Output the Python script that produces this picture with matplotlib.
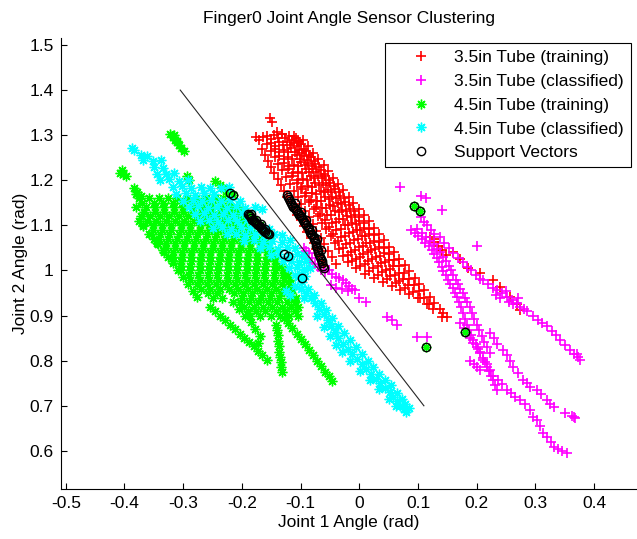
import matplotlib.pyplot as plt
import numpy as np

plt.rcParams['font.family'] = ['Liberation Sans', 'DejaVu Sans']
plt.rcParams['axes.unicode_minus'] = False

# 3.5in tube, training samples (red +)
train_35 = [
    # loose points on top of the band
    (-0.152, 1.338), (-0.148, 1.329), (-0.176, 1.296), (-0.171, 1.289), (-0.140, 1.307),
    (-0.131, 1.303), (-0.112, 1.299), (-0.104, 1.287),
    # left edge, next to the support vectors
    (-0.166, 1.270), (-0.161, 1.256), (-0.156, 1.243), (-0.150, 1.229), (-0.145, 1.216),
    (-0.139, 1.202), (-0.134, 1.189), (-0.128, 1.176), (-0.123, 1.163), (-0.117, 1.150),
    (-0.111, 1.137), (-0.106, 1.124), (-0.100, 1.111), (-0.094, 1.098), (-0.089, 1.085),
    (-0.083, 1.072), (-0.078, 1.060), (-0.073, 1.047), (-0.068, 1.034), (-0.064, 1.021),
    (-0.060, 1.010),
    (-0.164, 1.296), (-0.157, 1.281), (-0.151, 1.266), (-0.144, 1.251), (-0.138, 1.237),
    (-0.131, 1.222), (-0.125, 1.207), (-0.118, 1.192), (-0.112, 1.177), (-0.105, 1.162),
    (-0.099, 1.148), (-0.092, 1.133), (-0.086, 1.118), (-0.079, 1.103), (-0.073, 1.088),
    (-0.066, 1.073), (-0.060, 1.059), (-0.053, 1.044), (-0.047, 1.029), (-0.040, 1.014),
    # streaks through the middle of the band
    (-0.158, 1.298), (-0.151, 1.283), (-0.143, 1.269), (-0.136, 1.254), (-0.129, 1.239),
    (-0.122, 1.224), (-0.114, 1.210), (-0.107, 1.195), (-0.100, 1.180), (-0.093, 1.165),
    (-0.085, 1.151), (-0.078, 1.136), (-0.071, 1.121), (-0.064, 1.106), (-0.056, 1.092),
    (-0.049, 1.077), (-0.042, 1.062), (-0.035, 1.047), (-0.027, 1.033), (-0.020, 1.018),
    (-0.151, 1.292), (-0.143, 1.277), (-0.136, 1.262), (-0.128, 1.247), (-0.120, 1.232),
    (-0.113, 1.216), (-0.105, 1.201), (-0.097, 1.186), (-0.090, 1.171), (-0.082, 1.156),
    (-0.074, 1.141), (-0.067, 1.126), (-0.059, 1.111), (-0.051, 1.096), (-0.044, 1.080),
    (-0.036, 1.065), (-0.028, 1.050), (-0.020, 1.035), (-0.013, 1.020), (-0.005, 1.005),
    (-0.145, 1.300), (-0.137, 1.284), (-0.129, 1.268), (-0.121, 1.252), (-0.112, 1.235),
    (-0.104, 1.219), (-0.096, 1.203), (-0.088, 1.187), (-0.080, 1.171), (-0.072, 1.155),
    (-0.063, 1.138), (-0.055, 1.122), (-0.047, 1.106), (-0.039, 1.090), (-0.031, 1.074),
    (-0.023, 1.058), (-0.014, 1.041), (-0.006, 1.025), (0.002, 1.009), (0.010, 0.993),
    (-0.138, 1.293), (-0.130, 1.278), (-0.122, 1.262), (-0.114, 1.247), (-0.105, 1.231),
    (-0.097, 1.216), (-0.089, 1.200), (-0.081, 1.185), (-0.073, 1.169), (-0.065, 1.154),
    (-0.057, 1.139), (-0.048, 1.123), (-0.040, 1.108), (-0.032, 1.092), (-0.024, 1.077),
    (-0.016, 1.061), (-0.008, 1.046), (0.001, 1.030), (0.009, 1.015), (0.017, 0.999),
    (0.025, 0.984),
    (-0.132, 1.302), (-0.124, 1.286), (-0.116, 1.271), (-0.107, 1.255), (-0.099, 1.240),
    (-0.091, 1.224), (-0.083, 1.209), (-0.075, 1.193), (-0.066, 1.177), (-0.058, 1.162),
    (-0.050, 1.146), (-0.042, 1.131), (-0.034, 1.115), (-0.025, 1.100), (-0.017, 1.084),
    (-0.009, 1.068), (-0.001, 1.053), (0.007, 1.037), (0.015, 1.022), (0.024, 1.006),
    (0.032, 0.991), (0.040, 0.975),
    (-0.126, 1.293), (-0.118, 1.278), (-0.110, 1.263), (-0.101, 1.248), (-0.093, 1.234),
    (-0.085, 1.219), (-0.077, 1.204), (-0.068, 1.189), (-0.060, 1.174), (-0.052, 1.159),
    (-0.044, 1.144), (-0.035, 1.130), (-0.027, 1.115), (-0.019, 1.100), (-0.011, 1.085),
    (-0.002, 1.070), (0.006, 1.055), (0.014, 1.040), (0.022, 1.026), (0.031, 1.011),
    (0.039, 0.996), (0.047, 0.981), (0.055, 0.966),
    (-0.120, 1.298), (-0.112, 1.283), (-0.103, 1.268), (-0.095, 1.253), (-0.087, 1.239),
    (-0.079, 1.224), (-0.070, 1.209), (-0.062, 1.194), (-0.054, 1.179), (-0.046, 1.164),
    (-0.037, 1.150), (-0.029, 1.135), (-0.021, 1.120), (-0.013, 1.105), (-0.004, 1.090),
    (0.004, 1.076), (0.012, 1.061), (0.020, 1.046), (0.029, 1.031), (0.037, 1.016),
    (0.045, 1.001), (0.053, 0.987), (0.062, 0.972), (0.070, 0.957),
    (-0.114, 1.289), (-0.106, 1.275), (-0.097, 1.261), (-0.089, 1.246), (-0.081, 1.232),
    (-0.073, 1.218), (-0.064, 1.204), (-0.056, 1.189), (-0.048, 1.175), (-0.039, 1.161),
    (-0.031, 1.147), (-0.023, 1.133), (-0.015, 1.118), (-0.006, 1.104), (0.002, 1.090),
    (0.010, 1.076), (0.019, 1.061), (0.027, 1.047), (0.035, 1.033), (0.044, 1.019),
    (0.052, 1.004), (0.060, 0.990), (0.068, 0.976), (0.077, 0.962), (0.085, 0.947),
    (-0.108, 1.294), (-0.100, 1.280), (-0.091, 1.266), (-0.083, 1.251), (-0.075, 1.237),
    (-0.066, 1.223), (-0.058, 1.209), (-0.050, 1.194), (-0.041, 1.180), (-0.033, 1.166),
    (-0.025, 1.152), (-0.016, 1.137), (-0.008, 1.123), (0.000, 1.109), (0.008, 1.095),
    (0.017, 1.080), (0.025, 1.066), (0.033, 1.052), (0.042, 1.038), (0.050, 1.024),
    (0.058, 1.009), (0.067, 0.995), (0.075, 0.981), (0.083, 0.967), (0.092, 0.952),
    (0.100, 0.938),
    (-0.102, 1.284), (-0.094, 1.270), (-0.085, 1.256), (-0.077, 1.243), (-0.068, 1.229),
    (-0.060, 1.215), (-0.051, 1.201), (-0.043, 1.188), (-0.034, 1.174), (-0.026, 1.160),
    (-0.017, 1.146), (-0.009, 1.133), (0.000, 1.119), (0.008, 1.105), (0.017, 1.091),
    (0.025, 1.078), (0.034, 1.064), (0.042, 1.050), (0.050, 1.036), (0.059, 1.023),
    (0.067, 1.009), (0.076, 0.995), (0.084, 0.982), (0.093, 0.968), (0.101, 0.954),
    (0.110, 0.940), (0.118, 0.926),
    # right edge
    (-0.096, 1.289), (-0.087, 1.275), (-0.079, 1.261), (-0.070, 1.247), (-0.061, 1.234),
    (-0.053, 1.220), (-0.044, 1.206), (-0.036, 1.192), (-0.027, 1.178), (-0.018, 1.164),
    (-0.010, 1.150), (-0.001, 1.137), (0.008, 1.123), (0.016, 1.109), (0.025, 1.095),
    (0.033, 1.081), (0.042, 1.067), (0.051, 1.053), (0.059, 1.040), (0.068, 1.026),
    (0.077, 1.012), (0.085, 0.998), (0.094, 0.984), (0.102, 0.970), (0.111, 0.956),
    (0.120, 0.942), (0.128, 0.929), (0.137, 0.915),
    # stray points among the classified ones
    (0.120, 1.074), (0.127, 1.064), (0.134, 1.055), (0.141, 1.045), (0.147, 1.035),
    (0.128, 1.070), (0.160, 1.040), (0.172, 1.025), (0.185, 1.005), (0.205, 0.995),
    (0.228, 0.979), (0.240, 0.963), (0.257, 0.941), (0.268, 0.925), (0.274, 0.912),
    (0.103, 0.940), (0.115, 0.925), (0.125, 0.915), (0.143, 0.906), (0.149, 0.897),
    (0.140, 0.897),
]

# 3.5in tube, classified samples (magenta +)
class_35 = [
    # group next to the boundary
    (-0.095, 1.050), (-0.090, 1.044), (-0.085, 1.038), (-0.092, 1.030), (-0.080, 1.028),
    (-0.084, 1.018), (-0.075, 1.015), (-0.070, 1.008), (-0.065, 1.000), (-0.058, 0.996),
    (-0.052, 1.002), (-0.046, 0.992), (-0.040, 0.986), (-0.034, 0.984), (-0.028, 0.978),
    (-0.022, 0.972), (-0.017, 0.966), (-0.012, 0.960), (-0.048, 0.968), (-0.040, 0.962),
    (-0.030, 0.960), (-0.020, 0.955), (-0.008, 0.957), (0.000, 0.940), (0.012, 0.931),
    (0.047, 0.896), (0.055, 0.890), (0.064, 0.880), (0.098, 0.853), (0.115, 0.853),
    # isolated points
    (0.069, 1.186), (0.105, 1.165), (0.114, 1.160), (0.141, 1.134), (0.200, 1.054),
    # upper streak
    (0.105, 1.118), (0.110, 1.108), (0.115, 1.100), (0.122, 1.090), (0.128, 1.082),
    (0.137, 1.075), (0.145, 1.062), (0.152, 1.050), (0.160, 1.038), (0.168, 1.028),
    (0.176, 1.018), (0.183, 1.008), (0.190, 1.000), (0.198, 0.990), (0.205, 0.982),
    (0.211, 0.979), (0.220, 0.970), (0.228, 0.962), (0.234, 0.957), (0.243, 0.950),
    (0.251, 0.942), (0.260, 0.935), (0.268, 0.927), (0.274, 0.920), (0.285, 0.910),
    (0.296, 0.898), (0.305, 0.890), (0.312, 0.884), (0.319, 0.876), (0.328, 0.865),
    (0.335, 0.856), (0.342, 0.846), (0.350, 0.835), (0.359, 0.824), (0.366, 0.815),
    (0.372, 0.808), (0.376, 0.802), (0.232, 0.945), (0.240, 0.940), (0.250, 0.955),
    (0.262, 0.925), (0.255, 0.930), (0.270, 0.938), (0.280, 0.915), (0.370, 0.815),
    # dense ribbon
    (0.088, 1.090), (0.094, 1.083), (0.100, 1.076), (0.106, 1.069), (0.112, 1.062),
    (0.118, 1.055), (0.123, 1.046), (0.128, 1.037), (0.132, 1.028), (0.136, 1.018),
    (0.140, 1.008), (0.143, 0.999), (0.147, 0.990), (0.151, 0.980), (0.155, 0.971),
    (0.159, 0.961), (0.163, 0.951), (0.166, 0.942), (0.170, 0.930), (0.174, 0.918),
    (0.177, 0.905), (0.180, 0.893), (0.183, 0.880), (0.187, 0.868), (0.191, 0.857),
    (0.194, 0.846), (0.198, 0.836), (0.202, 0.826), (0.206, 0.816), (0.210, 0.806),
    (0.214, 0.796), (0.217, 0.787), (0.221, 0.777), (0.225, 0.767), (0.228, 0.757),
    (0.231, 0.746), (0.234, 0.735),
    (0.098, 1.092), (0.106, 1.083), (0.114, 1.074), (0.120, 1.066), (0.127, 1.058),
    (0.133, 1.048), (0.138, 1.040), (0.143, 1.030), (0.148, 1.020), (0.152, 1.010),
    (0.156, 1.000), (0.160, 0.990), (0.164, 0.980), (0.168, 0.970), (0.172, 0.960),
    (0.176, 0.950), (0.180, 0.940), (0.184, 0.930), (0.188, 0.918), (0.192, 0.905),
    (0.196, 0.893), (0.200, 0.880), (0.204, 0.868), (0.209, 0.855), (0.213, 0.842),
    (0.218, 0.830), (0.222, 0.818),
    # lower streak
    (0.172, 0.883), (0.178, 0.872), (0.183, 0.861), (0.189, 0.850), (0.194, 0.839),
    (0.200, 0.830), (0.206, 0.820), (0.211, 0.802), (0.217, 0.792), (0.223, 0.780),
    (0.228, 0.765), (0.236, 0.757), (0.243, 0.748), (0.251, 0.735), (0.258, 0.728),
    (0.266, 0.720), (0.274, 0.713), (0.282, 0.703), (0.290, 0.690), (0.296, 0.676),
    (0.302, 0.668), (0.308, 0.655), (0.313, 0.639), (0.320, 0.630), (0.326, 0.620),
    (0.331, 0.609), (0.338, 0.604), (0.345, 0.600), (0.353, 0.595),
    # middle streak
    (0.223, 0.861), (0.229, 0.850), (0.235, 0.838), (0.245, 0.824), (0.252, 0.812),
    (0.257, 0.800), (0.262, 0.787), (0.270, 0.772), (0.279, 0.757), (0.285, 0.750),
    (0.291, 0.742), (0.302, 0.735), (0.310, 0.726), (0.319, 0.713), (0.325, 0.705),
    (0.331, 0.698), (0.350, 0.685), (0.365, 0.676), (0.368, 0.674), (0.362, 0.678),
    (0.189, 0.800), (0.195, 0.792), (0.200, 0.785), (0.206, 0.780),
]

# 4.5in tube, training samples (green *)
train_45 = [
    # small groups at the top
    (-0.322, 1.302), (-0.318, 1.296), (-0.314, 1.290), (-0.311, 1.284), (-0.308, 1.279),
    (-0.303, 1.272), (-0.298, 1.264), (-0.316, 1.300), (-0.310, 1.288),
    (-0.405, 1.222), (-0.402, 1.215), (-0.398, 1.210), (-0.407, 1.217),
    (-0.383, 1.182), (-0.378, 1.174), (-0.372, 1.166), (-0.380, 1.170),
    (-0.293, 1.210), (-0.290, 1.200),
    (-0.245, 1.198), (-0.238, 1.190), (-0.232, 1.182), (-0.226, 1.176), (-0.220, 1.172),
    (-0.216, 1.168),
    (-0.190, 1.125), (-0.185, 1.118), (-0.180, 1.111), (-0.175, 1.105), (-0.170, 1.100),
    (-0.165, 1.094), (-0.160, 1.088), (-0.155, 1.083), (-0.150, 1.078),
    # outliers inside the 3.5in region
    (0.093, 1.143), (0.103, 1.133), (0.113, 0.830), (0.180, 0.864),
    # lower left streak
    (-0.375, 1.110), (-0.368, 1.098), (-0.358, 1.082), (-0.350, 1.070), (-0.343, 1.058),
    (-0.335, 1.046), (-0.326, 1.030), (-0.318, 1.017), (-0.309, 1.000), (-0.300, 0.985),
    (-0.292, 0.970), (-0.283, 0.955), (-0.276, 0.942),
    # fingers below the cluster
    (-0.255, 0.920), (-0.246, 0.910), (-0.238, 0.900), (-0.229, 0.890), (-0.220, 0.880),
    (-0.212, 0.870), (-0.204, 0.860), (-0.196, 0.851), (-0.188, 0.842), (-0.180, 0.832),
    (-0.172, 0.822), (-0.165, 0.812), (-0.158, 0.802),
    (-0.142, 0.880), (-0.140, 0.868), (-0.139, 0.856), (-0.138, 0.844), (-0.137, 0.832),
    (-0.136, 0.820), (-0.135, 0.808), (-0.134, 0.796), (-0.133, 0.786), (-0.132, 0.776),
    (-0.128, 0.895), (-0.121, 0.884), (-0.114, 0.872), (-0.107, 0.860), (-0.100, 0.848),
    (-0.093, 0.836), (-0.086, 0.824), (-0.079, 0.812), (-0.072, 0.800), (-0.065, 0.788),
    (-0.058, 0.776), (-0.052, 0.765), (-0.047, 0.755),
    (-0.215, 0.930), (-0.205, 0.915), (-0.195, 0.900), (-0.185, 0.885), (-0.178, 0.870),
    (-0.170, 0.855), (-0.172, 0.840),
]

# main 4.5in training cluster, one row of samples per y value
train_45_rows = {
    1.160: [-0.375, -0.358, -0.342, -0.326, -0.310, -0.294, -0.278, -0.262, -0.246, -0.232],
    1.150: [-0.370, -0.350, -0.334, -0.318, -0.302, -0.286, -0.270, -0.254, -0.238, -0.222],
    1.140: [-0.380, -0.364, -0.348, -0.332, -0.316, -0.300, -0.284, -0.268, -0.252, -0.236,
            -0.220, -0.208],
    1.130: [-0.366, -0.348, -0.332, -0.316, -0.300, -0.284, -0.268, -0.252, -0.236, -0.220,
            -0.206],
    1.120: [-0.372, -0.356, -0.340, -0.324, -0.308, -0.292, -0.276, -0.260, -0.244, -0.228,
            -0.212, -0.200],
    1.110: [-0.362, -0.346, -0.330, -0.314, -0.298, -0.282, -0.266, -0.250, -0.234, -0.218,
            -0.202],
    1.100: [-0.368, -0.352, -0.336, -0.320, -0.304, -0.288, -0.272, -0.256, -0.240, -0.224,
            -0.208, -0.194],
    1.090: [-0.352, -0.336, -0.320, -0.304, -0.288, -0.272, -0.256, -0.240, -0.224, -0.208,
            -0.190],
    1.080: [-0.355, -0.340, -0.324, -0.308, -0.292, -0.276, -0.260, -0.244, -0.228, -0.212,
            -0.196, -0.180],
    1.070: [-0.342, -0.326, -0.310, -0.294, -0.278, -0.262, -0.246, -0.230, -0.214, -0.198,
            -0.182, -0.168],
    1.060: [-0.345, -0.330, -0.314, -0.298, -0.282, -0.266, -0.250, -0.234, -0.218, -0.202,
            -0.186, -0.170, -0.160],
    1.050: [-0.330, -0.314, -0.298, -0.282, -0.266, -0.250, -0.234, -0.218, -0.202, -0.186,
            -0.170, -0.156],
    1.040: [-0.333, -0.318, -0.302, -0.286, -0.270, -0.254, -0.238, -0.222, -0.206, -0.190,
            -0.174, -0.158, -0.148],
    1.030: [-0.318, -0.302, -0.286, -0.270, -0.254, -0.238, -0.222, -0.206, -0.190, -0.174,
            -0.158, -0.146],
    1.020: [-0.318, -0.303, -0.287, -0.271, -0.255, -0.239, -0.223, -0.207, -0.191, -0.175,
            -0.159, -0.143],
    1.010: [-0.304, -0.288, -0.272, -0.256, -0.240, -0.224, -0.208, -0.192, -0.176, -0.160,
            -0.144, -0.134],
    1.000: [-0.303, -0.288, -0.272, -0.256, -0.240, -0.224, -0.208, -0.192, -0.176, -0.160,
            -0.144, -0.130],
    0.990: [-0.290, -0.274, -0.258, -0.242, -0.226, -0.210, -0.194, -0.178, -0.162, -0.146,
            -0.130, -0.122],
    0.980: [-0.288, -0.272, -0.256, -0.240, -0.224, -0.208, -0.192, -0.176, -0.160, -0.144,
            -0.128, -0.118],
    0.970: [-0.276, -0.260, -0.244, -0.228, -0.212, -0.196, -0.180, -0.164, -0.148, -0.132,
            -0.118],
    0.960: [-0.270, -0.254, -0.238, -0.222, -0.206, -0.190, -0.174, -0.158, -0.142, -0.126,
            -0.114],
    0.950: [-0.258, -0.242, -0.214, -0.198, -0.182, -0.166, -0.150, -0.134, -0.118],
    0.940: [-0.250, -0.234, -0.200, -0.184, -0.168, -0.152, -0.136, -0.120, -0.108],
    0.930: [-0.204, -0.188, -0.172, -0.156, -0.140, -0.124, -0.110],
    0.920: [-0.196, -0.180, -0.164, -0.148, -0.132, -0.116, -0.104],
    0.910: [-0.190, -0.176, -0.160, -0.142, -0.126, -0.110],
    0.900: [-0.186, -0.170, -0.150, -0.135, -0.120, -0.104],
}

# 4.5in tube, classified samples (cyan *)
class_45 = [
    # upper band
    (-0.388, 1.272), (-0.383, 1.268), (-0.372, 1.255), (-0.362, 1.253),
    (-0.368, 1.245), (-0.352, 1.243), (-0.338, 1.246),
    (-0.350, 1.230), (-0.334, 1.228),
    (-0.345, 1.215), (-0.330, 1.213), (-0.316, 1.216),
    (-0.340, 1.200), (-0.324, 1.202), (-0.308, 1.198), (-0.292, 1.201),
    (-0.318, 1.185), (-0.302, 1.187), (-0.286, 1.183), (-0.270, 1.186), (-0.254, 1.184),
    (-0.236, 1.182), (-0.222, 1.186),
    (-0.312, 1.170), (-0.296, 1.172), (-0.280, 1.168), (-0.264, 1.171), (-0.248, 1.169),
    (-0.300, 1.155), (-0.284, 1.157), (-0.268, 1.153), (-0.252, 1.156), (-0.236, 1.154),
    (-0.220, 1.157), (-0.204, 1.153),
    (-0.290, 1.140), (-0.274, 1.142), (-0.258, 1.138), (-0.242, 1.141), (-0.226, 1.139),
    (-0.210, 1.143), (-0.194, 1.138), (-0.178, 1.141), (-0.166, 1.137),
    (-0.280, 1.125), (-0.264, 1.127), (-0.248, 1.123), (-0.232, 1.126), (-0.216, 1.124),
    (-0.200, 1.127),
    (-0.272, 1.110), (-0.256, 1.112), (-0.240, 1.108), (-0.224, 1.111), (-0.208, 1.109),
    (-0.192, 1.112),
    (-0.250, 1.095), (-0.234, 1.097), (-0.218, 1.093), (-0.202, 1.096), (-0.186, 1.094),
    (-0.170, 1.097), (-0.154, 1.093),
    (-0.226, 1.080), (-0.210, 1.082), (-0.194, 1.078), (-0.178, 1.081), (-0.162, 1.079),
    (-0.146, 1.082), (-0.132, 1.078),
    (-0.196, 1.065), (-0.180, 1.067), (-0.164, 1.063), (-0.148, 1.066), (-0.132, 1.064),
    (-0.118, 1.067),
    (-0.170, 1.050), (-0.154, 1.052), (-0.138, 1.048), (-0.124, 1.051), (-0.110, 1.049),
    (-0.150, 1.035), (-0.136, 1.037), (-0.120, 1.033), (-0.106, 1.036), (-0.095, 1.034),
    (-0.130, 1.020), (-0.116, 1.022), (-0.102, 1.018), (-0.090, 1.021),
    (-0.120, 1.005), (-0.106, 1.007), (-0.094, 1.003), (-0.084, 1.006),
    (-0.110, 0.990), (-0.100, 0.992), (-0.092, 0.988),
    # streak running down to the right
    (-0.105, 0.985), (-0.098, 0.975), (-0.110, 0.965), (-0.100, 0.958), (-0.090, 0.950),
    (-0.083, 0.940), (-0.095, 0.940), (-0.076, 0.928), (-0.068, 0.915), (-0.060, 0.903),
    (-0.072, 0.900), (-0.054, 0.890), (-0.048, 0.877), (-0.060, 0.875), (-0.042, 0.864),
    (-0.050, 0.855), (-0.036, 0.850), (-0.028, 0.838), (-0.040, 0.835), (-0.020, 0.826),
    (-0.030, 0.820), (-0.012, 0.814), (-0.004, 0.803), (-0.016, 0.800), (0.004, 0.792),
    (0.012, 0.781), (0.002, 0.778), (0.020, 0.770), (0.028, 0.760), (0.018, 0.757),
    (0.036, 0.750), (0.044, 0.740), (0.034, 0.737), (0.052, 0.730), (0.058, 0.720),
    (0.050, 0.715), (0.065, 0.710), (0.070, 0.700), (0.062, 0.700), (0.076, 0.692),
    (0.080, 0.686), (-0.125, 0.955), (-0.118, 0.945),
    (-0.088, 0.960), (-0.078, 0.945), (-0.066, 0.928), (-0.056, 0.912), (-0.046, 0.895),
    (-0.036, 0.878), (-0.026, 0.862), (-0.016, 0.846), (-0.006, 0.830), (0.004, 0.815),
    (0.014, 0.800), (0.024, 0.785), (0.034, 0.770), (0.044, 0.757), (0.054, 0.745),
    (0.064, 0.728), (0.072, 0.715), (0.078, 0.704), (0.084, 0.695),
]

# support vectors (black o)
support = [
    (-0.124, 1.167), (-0.120, 1.158), (-0.116, 1.150), (-0.113, 1.141), (-0.108, 1.135),
    (-0.104, 1.128), (-0.100, 1.120), (-0.096, 1.112), (-0.092, 1.105), (-0.088, 1.097),
    (-0.085, 1.090), (-0.082, 1.082), (-0.078, 1.075), (-0.076, 1.066), (-0.073, 1.055),
    (-0.071, 1.045), (-0.068, 1.035), (-0.066, 1.026), (-0.063, 1.016), (-0.060, 1.006),
    (-0.122, 1.162), (-0.118, 1.154), (-0.114, 1.146), (-0.110, 1.138), (-0.106, 1.131),
    (-0.102, 1.124), (-0.098, 1.116), (-0.094, 1.108), (-0.090, 1.101), (-0.086, 1.093),
    (-0.084, 1.086), (-0.080, 1.078), (-0.077, 1.070), (-0.074, 1.060), (-0.072, 1.050),
    (-0.070, 1.040), (-0.067, 1.030), (-0.064, 1.021), (-0.062, 1.011),
    (-0.110, 1.150), (-0.100, 1.130), (-0.090, 1.112), (-0.080, 1.090), (-0.072, 1.070),
    (-0.066, 1.045),
    (-0.190, 1.125), (-0.186, 1.120), (-0.182, 1.113), (-0.178, 1.108), (-0.174, 1.103),
    (-0.170, 1.098), (-0.166, 1.093), (-0.162, 1.088), (-0.158, 1.084), (-0.154, 1.080),
    (-0.188, 1.122), (-0.184, 1.116), (-0.180, 1.110), (-0.176, 1.105), (-0.172, 1.100),
    (-0.168, 1.095), (-0.164, 1.090), (-0.160, 1.086), (-0.156, 1.082),
    (-0.184, 1.126), (-0.176, 1.112), (-0.168, 1.102), (-0.160, 1.092),
    (-0.220, 1.172), (-0.216, 1.168),
    (-0.128, 1.036), (-0.122, 1.032),
    (-0.097, 0.984),
    (0.093, 1.143), (0.103, 1.133), (0.113, 0.830), (0.180, 0.864),
]

# separating line
boundary_x = [-0.305, 0.110]
boundary_y = [1.400, 0.700]

xticks = [-0.5, -0.4, -0.3, -0.2, -0.1, 0, 0.1, 0.2, 0.3, 0.4]
yticks = [0.6, 0.7, 0.8, 0.9, 1, 1.1, 1.2, 1.3, 1.4, 1.5]

FS = 12.5


def xy(pts):
    a = np.array(pts)
    return a[:, 0], a[:, 1]


green_pts = train_45 + [(x, y) for y, xs in train_45_rows.items() for x in xs]

fig = plt.figure(figsize=(6.37, 5.39), dpi=100)
ax = fig.add_axes([60.5 / 637, 50 / 539, 576.5 / 637, 451 / 539])

star = (8, 2, 0)
ax.plot(*xy(train_35), '+', color=(1, 0, 0), ms=7, mew=1.2, label='3.5in Tube (training)')
ax.plot(*xy(class_35), '+', color=(1, 0, 1), ms=7, mew=1.2, label='3.5in Tube (classified)')
ax.plot(*xy(green_pts), linestyle='none', marker=star, color=(0, 1, 0), ms=7, mew=1,
        label='4.5in Tube (training)')
ax.plot(*xy(class_45), linestyle='none', marker=star, color=(0, 1, 1), ms=7, mew=1,
        label='4.5in Tube (classified)')
ax.plot(*xy(support), 'o', mfc='none', mec='k', ms=6, mew=1, label='Support Vectors')
ax.plot(boundary_x, boundary_y, color='0.15', lw=0.8)

ax.set_xlim(-0.509, 0.473)
ax.set_ylim(0.5155, 1.5155)
ax.set_xticks(xticks)
ax.set_yticks(yticks)
ax.set_xticklabels(['%g' % v for v in xticks])
ax.set_yticklabels(['%g' % v for v in yticks])
ax.tick_params(direction='in', length=4.5, width=0.8, labelsize=FS, pad=5)
for side in ['top', 'right']:
    ax.spines[side].set_visible(False)

ax.set_title('Finger0 Joint Angle Sensor Clustering', fontsize=FS, pad=10.5)
ax.set_xlabel('Joint 1 Angle (rad)', fontsize=FS, labelpad=3)
ax.set_ylabel('Joint 2 Angle (rad)', fontsize=FS, labelpad=1)

leg = ax.legend(loc='upper right', bbox_to_anchor=(0.9896, 0.989), borderaxespad=0,
                numpoints=1, fontsize=FS, fancybox=False, framealpha=1, edgecolor='k',
                handlelength=3.3, handletextpad=0.3, labelspacing=0.5, borderpad=0.4)
leg.get_frame().set_linewidth(0.8)

fig.savefig('out.png', dpi=100)
